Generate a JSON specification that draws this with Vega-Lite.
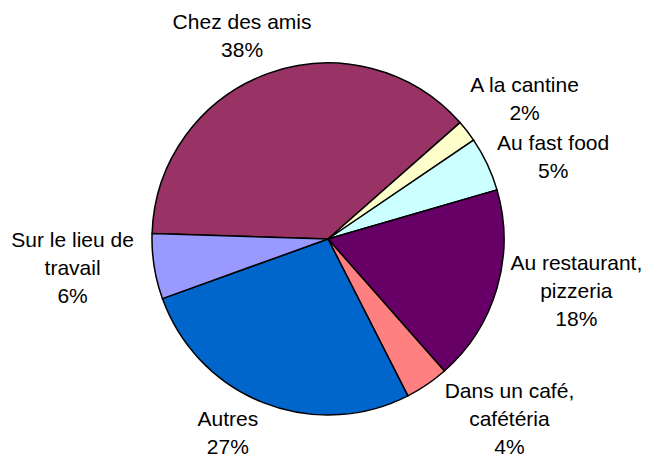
{
  "$schema": "https://vega.github.io/schema/vega-lite/v6.json",
  "width": 656,
  "height": 478,
  "padding": 0,
  "autosize": "none",
  "background": "white",
  "view": {"stroke": null},
  "data": {
    "values": [
      {"order": 1, "cat": "Chez des amis", "pct": 38, "label": "Chez des amis\n38%"},
      {"order": 2, "cat": "A la cantine", "pct": 2, "label": "A la cantine\n2%"},
      {"order": 3, "cat": "Au fast food", "pct": 5, "label": "Au fast food\n5%"},
      {"order": 4, "cat": "Au restaurant, pizzeria", "pct": 18, "label": "Au restaurant,\npizzeria\n18%"},
      {"order": 5, "cat": "Dans un café, cafétéria", "pct": 4, "label": "Dans un café,\ncafétéria\n4%"},
      {"order": 6, "cat": "Autres", "pct": 27, "label": "Autres\n27%"},
      {"order": 7, "cat": "Sur le lieu de travail", "pct": 6, "label": "Sur le lieu de\ntravail\n6%"}
    ]
  },
  "transform": [
    {"stack": "pct", "groupby": [], "sort": [{"field": "order", "order": "ascending"}], "as": ["s0", "s1"]}
  ],
  "layer": [
    {
      "mark": {"type": "arc", "outerRadius": 176, "stroke": "black", "strokeWidth": 1.5},
      "encoding": {
        "theta": {"field": "s0", "type": "quantitative", "scale": {"domain": [0, 100], "range": [-1.5394, 4.7438]}},
        "theta2": {"field": "s1"},
        "color": {
          "field": "cat",
          "type": "nominal",
          "scale": {
            "domain": ["Chez des amis", "A la cantine", "Au fast food", "Au restaurant, pizzeria", "Dans un café, cafétéria", "Autres", "Sur le lieu de travail"],
            "range": ["#993366", "#FFFFCC", "#CCFFFF", "#660066", "#FF8080", "#0066CC", "#9999FF"]
          },
          "legend": null
        }
      }
    },
    {
      "mark": {
        "type": "text",
        "radius": 0,
        "font": "Liberation Sans",
        "fontSize": 21,
        "lineHeight": 28,
        "lineBreak": "\n",
        "align": "center",
        "baseline": "middle",
        "color": "black",
        "dy": {"expr": "clamp((-190*cos(-1.5394+PI*(datum.s0+datum.s1)/100)+(cos(-1.5394+PI*(datum.s0+datum.s1)/100)>0.5?-(14*length(split(datum.label,'\\n'))-5):(cos(-1.5394+PI*(datum.s0+datum.s1)/100)<-0.5?(14*length(split(datum.label,'\\n'))-5):0))),(14*length(split(datum.label,'\\n'))-5)-236,218-(14*length(split(datum.label,'\\n'))-5))-14*(length(split(datum.label,'\\n'))-1)"},
        "dx": {"expr": "((-190*cos(-1.5394+PI*(datum.s0+datum.s1)/100)+(cos(-1.5394+PI*(datum.s0+datum.s1)/100)>0.5?-(14*length(split(datum.label,'\\n'))-5):(cos(-1.5394+PI*(datum.s0+datum.s1)/100)<-0.5?(14*length(split(datum.label,'\\n'))-5):0)))>218-(14*length(split(datum.label,'\\n'))-5))?((sin(-1.5394+PI*(datum.s0+datum.s1)/100)<0?-1:1)*((4.9*length(split(datum.label,'\\n')[0]))+sqrt(max(34596-pow(218-2*(14*length(split(datum.label,'\\n'))-5),2),0)))):((190+4.9*length(split(datum.label,'\\n')[0]))*sin(-1.5394+PI*(datum.s0+datum.s1)/100))"}
      },
      "encoding": {
        "theta": {"field": "s0", "type": "quantitative", "stack": null},
        "text": {"field": "label", "type": "nominal"}
      }
    }
  ]
}
